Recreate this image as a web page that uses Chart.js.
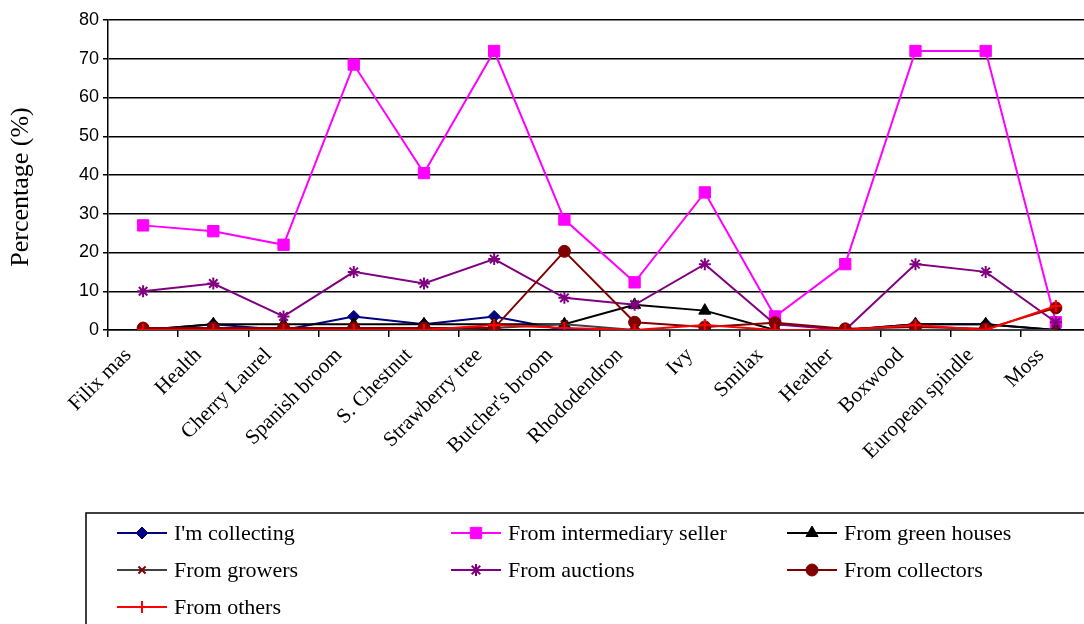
<!DOCTYPE html>
<html>
<head>
<meta charset="utf-8">
<script src="https://cdn.jsdelivr.net/npm/chart.js@4.4.1/dist/chart.umd.min.js"></script>
<style>
html,body{margin:0;padding:0;background:#fff;overflow:hidden;width:1084px;height:624px;}
#wrap{position:absolute;left:0;top:0;width:1100px;height:624px;}
</style>
</head>
<body>
<div id="wrap"><canvas id="c" width="1100" height="624"></canvas></div>
<script>
const categories = ["Filix mas","Health","Cherry Laurel","Spanish broom","S. Chestnut","Strawberry tree","Butcher's broom","Rhododendron","Ivy","Smilax","Heather","Boxwood","European spindle","Moss"];
const yTicks = [0,10,20,30,40,50,60,70,80];
const yTitle = 'Percentage (%)';
const imCollecting   = [0, 1.5, 0, 3.5, 1.5, 3.5, 0, 0, 0, 0, 0, 1.5, 1.5, 0];
const intermediary   = [27, 25.5, 22, 68.5, 40.5, 72, 28.5, 12.3, 35.5, 3.5, 17, 72, 72, 2];
const greenHouses    = [0, 1.5, 1.5, 1.5, 1.5, 1.5, 1.5, 6.5, 5, 0, 0, 1.5, 1.5, 0];
const growers        = [0, 0, 0, 0, 0, 0.5, 1.5, 0, 0, 0, 0, 0, 0, 0];
const auctions       = [10, 12, 3.5, 15, 12, 18.3, 8.3, 6.5, 17, 1.5, 0, 17, 15, 2];
const collectors     = [0.5, 0.5, 0.5, 0.5, 0.5, 0.5, 20.3, 2, 0.8, 1.9, 0.3, 0.8, 0.3, 5.7];
const others         = [0, 0, 0, 0, 0, 1.3, 0.5, 0, 1.3, 0, 0, 1.3, 0, 6.2];

const seriesDefs = [
  {label:"I'm collecting", data:imCollecting, line:'#000080', fill:'#000080', style:'rectRot', r:6},
  {label:"From intermediary seller", data:intermediary, line:'#FF00FF', fill:'#FF00FF', style:'rect', r:8},
  {label:"From green houses", data:greenHouses, line:'#000000', fill:'#000000', style:'triangle', r:7},
  {label:"From growers", data:growers, line:'#404040', fill:'#800000', mline:'#800000', style:'crossRot', r:5},
  {label:"From auctions", data:auctions, line:'#800080', fill:'#800080', mline:'#800080', style:'star', r:6},
  {label:"From collectors", data:collectors, line:'#800000', fill:'#800000', style:'circle', r:6},
  {label:"From others", data:others, line:'#FF0000', fill:'#FF0000', mline:'#FF0000', style:'cross', r:6}
];

const datasets = seriesDefs.map((s,i)=>({
  label:s.label, data:s.data,
  borderColor:s.line, backgroundColor:s.fill,
  pointBorderColor:s.mline||s.fill, pointBackgroundColor:s.fill,
  pointStyle:s.style, pointRadius:s.r, pointBorderWidth:(s.mline?2:1),
  borderWidth:2, tension:0, order:seriesDefs.length-i
}));

const SERIF = '"Liberation Serif", "Times New Roman", serif';

const drawPlugin = {
  id:'customDraw',
  afterDraw(chart){
    const ctx = chart.ctx;
    // y axis title
    ctx.save();
    ctx.font = '26px ' + SERIF;
    ctx.fillStyle = '#000';
    ctx.textAlign = 'center'; ctx.textBaseline = 'middle';
    ctx.translate(21, 187);
    ctx.rotate(-Math.PI/2);
    ctx.fillText(yTitle, 0, 0);
    ctx.restore();

    // x category labels, rotated 45 degrees
    const xs = chart.scales.x;
    ctx.save();
    ctx.font = '21px ' + SERIF;
    ctx.fillStyle = '#000';
    ctx.textAlign = 'right'; ctx.textBaseline = 'middle';
    categories.forEach((c,i)=>{
      const px = xs.getPixelForTick(i);
      ctx.save();
      ctx.translate(px - 15, chart.chartArea.bottom + 22);
      ctx.rotate(-Math.PI/4);
      ctx.fillText(c, 0, 0);
      ctx.restore();
    });
    ctx.restore();

    // legend
    ctx.save();
    ctx.strokeStyle = '#000'; ctx.lineWidth = 1.5;
    ctx.strokeRect(86, 513, 1100, 200);
    const cols = [117, 451, 787];
    const rows = [533, 570, 607];
    ctx.font = '22px ' + SERIF;
    ctx.textBaseline = 'middle'; ctx.textAlign = 'left';
    seriesDefs.forEach((s,i)=>{
      const x = cols[i%3], y = rows[Math.floor(i/3)];
      ctx.strokeStyle = s.line; ctx.lineWidth = 2;
      ctx.beginPath(); ctx.moveTo(x,y); ctx.lineTo(x+50,y); ctx.stroke();
      ctx.fillStyle = s.fill; ctx.strokeStyle = s.mline||s.fill; ctx.lineWidth=(s.mline?2:1);
      Chart.helpers.drawPoint(ctx, {pointStyle:s.style, radius:s.r, borderWidth:(s.mline?2:1)}, x+25, y);
      ctx.fillStyle = '#000';
      ctx.fillText(s.label, x+57, y+1);
    });
    ctx.restore();
  }
};

new Chart(document.getElementById('c'), {
  type:'line',
  data:{labels:categories, datasets},
  options:{
    responsive:false, animation:false,
    layout:{padding:{top:20, right:2, left:0, bottom:0}},
    plugins:{legend:{display:false}, tooltip:{enabled:false}},
    scales:{
      x:{
        offset:true,
        grid:{display:true, drawOnChartArea:false, drawTicks:true, tickLength:7, color:'#000', offset:true, lineWidth:1.5},
        border:{color:'#000', width:1.5},
        ticks:{display:false, autoSkip:false},
        afterFit(s){ s.height = 294; }
      },
      y:{
        min:0, max:80,
        afterBuildTicks(s){ s.ticks = yTicks.map(v=>({value:v})); },
        grid:{color:'#000', lineWidth:1.5, tickLength:5},
        border:{color:'#000', width:1.5},
        ticks:{color:'#000', padding:4, font:{family:'"Liberation Sans", Arial, sans-serif', size:18}},
        title:{display:false},
        afterFit(s){ s.width = 108; }
      }
    }
  },
  plugins:[drawPlugin]
});
</script>
</body>
</html>
